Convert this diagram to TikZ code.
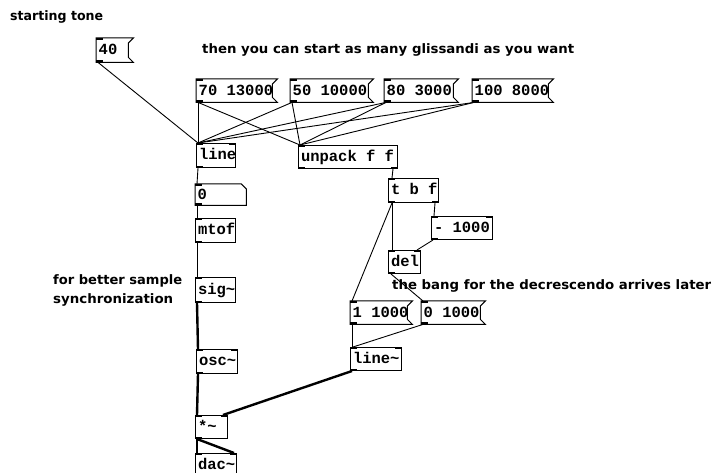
\documentclass[tikz,border=0pt]{standalone}
\usepackage{fontspec}
\setmainfont{DejaVu Sans}
\newfontfamily\cmtfamily{DejaVu Sans}
\newfontfamily\boxfamily{Liberation Mono}
\newcommand\cmtfnt{\cmtfamily\bfseries\fontsize{13}{15}\selectfont}
\newcommand\boxfnt{\boxfamily\bfseries\fontsize{15.5}{17}\selectfont}
\tikzset{
 pdtext/.style={font=\boxfnt, inner xsep=2.5pt, inner ysep=0pt, text height=9pt, text depth=0pt, anchor=north west},
 pdobj/.style={pdtext, draw=black, line width=1pt},
 pdmsg/.style={pdtext},
 cmt/.style={font=\cmtfnt, inner sep=0pt, anchor=base west},
 wire/.style={line width=0.9pt, black},
 sigwire/.style={line width=2.4pt, black},
 frame/.style={line width=1pt, black},
}
\newcommand\cmtw[2]{\resizebox{#1pt}{\height}{#2}}
\newcommand\pdbox[7]{\pgfmathsetmacro\pdtw{#5-#3-5}\pgfmathsetmacro\pdh{#6-#4}\node[#1, minimum height=\pdh pt] (#2) at (#3,#4) {\makebox[\pdtw pt][l]{#7}};}
\newcommand\msgframe[1]{\draw[frame] (#1.north west) -- (#1.north east) -- ([xshift=-5pt,yshift=-5pt]#1.north east) -- ([xshift=-5pt,yshift=5pt]#1.south east) -- (#1.south east) -- (#1.south west) -- cycle;}
\newcommand\atomframe[1]{\draw[frame] (#1.north west) -- ([xshift=-5pt]#1.north east) -- ([yshift=-5pt]#1.north east) -- (#1.south east) -- (#1.south west) -- cycle;}
\newcommand\ioTL[1]{\fill (#1.north west) rectangle ++(7,2.2);}
\newcommand\ioTR[1]{\fill ([xshift=-7pt]#1.north east) rectangle ++(7,2.2);}
\newcommand\ioBL[1]{\fill (#1.south west) rectangle ++(7,-2.2);}
\newcommand\ioBR[1]{\fill ([xshift=-7pt]#1.south east) rectangle ++(7,-2.2);}
\begin{document}
\begin{tikzpicture}[x=1pt,y=-1pt]
\useasboundingbox[fill=white] (0,0) rectangle (716,473);
\clip (0,0) rectangle (716,473);
% comments
\node[cmt] (c1) at (10,21) {\cmtw{93}{starting tone}};
\node[cmt] (c2) at (202,54) {\cmtw{372}{then you can start as many glissandi as you want}};
\node[cmt] (c3) at (53,285) {\cmtw{129}{for better sample}};
\node[cmt] (c4) at (53,304) {\cmtw{120}{synchronization}};
\node[cmt] (c5) at (392,290) {\cmtw{319}{the bang for the decrescendo arrives later}};
% message boxes
\pdbox{pdmsg}{m40}{96}{38}{133}{62}{40}
\pdbox{pdmsg}{ma}{196}{79}{277}{102}{70 13000}
\pdbox{pdmsg}{mb}{290}{79}{373}{102}{50 10000}
\pdbox{pdmsg}{mc}{384}{79}{458}{102}{80 3000}
\pdbox{pdmsg}{md}{472}{79}{553}{102}{100 8000}
\pdbox{pdmsg}{mon}{350}{301}{412}{324}{1 1000}
\pdbox{pdmsg}{moff}{421}{301}{485}{324}{0 1000}
\foreach \m in {m40,ma,mb,mc,md,mon,moff}{\msgframe{\m}\ioTL{\m}\ioBL{\m}}
% objects
\pdbox{pdobj}{line}{196}{143}{235}{167}{line}
\pdbox{pdobj}{unp}{298}{145}{397}{168}{unpack f f}
\pdbox{pdmsg}{num}{195}{184}{246}{205}{0}
\atomframe{num}
\pdbox{pdobj}{tbf}{388}{178}{438}{202}{t b f}
\pdbox{pdobj}{sub}{431}{216}{492}{239}{- 1000}
\pdbox{pdobj}{mtof}{195}{218}{235}{242}{mtof}
\pdbox{pdobj}{del}{388}{250}{420}{273}{del}
\pdbox{pdobj}{sig}{195}{277}{235}{302}{sig\char`~}
\pdbox{pdobj}{linesig}{350}{347}{401}{370}{line\char`~}
\pdbox{pdobj}{osc}{196}{349}{237}{373}{osc\char`~}
\pdbox{pdobj}{mul}{195}{415}{227}{438}{*\char`~}
\pdbox{pdobj}{dac}{195}{453}{236}{476}{dac\char`~}
% inlets / outlets
\foreach \o in {line,unp,num,tbf,sub,mtof,del,sig,linesig,osc,mul,dac}{\ioTL{\o}}
\foreach \o in {line,unp,num,tbf,sub,mtof,del,sig,linesig,osc,mul}{\ioBL{\o}}
\foreach \o in {line,sub,del,linesig,osc,mul,dac}{\ioTR{\o}}
\foreach \o in {unp,tbf}{\ioBR{\o}}
% control connections
\draw[wire] ([xshift=2pt]m40.south west) -- ([xshift=2pt]line.north west);
\foreach \m in {ma,mb,mc,md}{
  \draw[wire] ([xshift=2pt]\m.south west) -- ([xshift=2pt]line.north west);
  \draw[wire] ([xshift=2pt]\m.south west) -- ([xshift=2pt]unp.north west);
}
\draw[wire] ([xshift=2pt]line.south west) -- ([xshift=2pt]num.north west);
\draw[wire] ([xshift=2pt]num.south west) -- ([xshift=2pt]mtof.north west);
\draw[wire] ([xshift=2pt]mtof.south west) -- ([xshift=2pt]sig.north west);
\draw[wire] ([xshift=-5pt]unp.south east) -- ([xshift=4pt]tbf.north west);
\draw[wire] ([xshift=4pt]tbf.south west) -- ([xshift=4pt]del.north west);
\draw[wire] ([xshift=4pt]tbf.south west) -- ([xshift=2pt]mon.north west);
\draw[wire] ([xshift=-4pt]tbf.south east) -- ([xshift=3pt]sub.north west);
\draw[wire] ([xshift=2pt]sub.south west) -- ([xshift=-4pt]del.north east);
\draw[wire] ([xshift=3pt]del.south west) -- ([xshift=2pt]moff.north west);
\draw[wire] ([xshift=2pt]mon.south west) -- ([xshift=2pt]linesig.north west);
\draw[wire] ([xshift=2pt]moff.south west) -- ([xshift=3pt]linesig.north west);
% signal connections
\draw[sigwire] ([xshift=2pt]sig.south west) -- ([xshift=2pt]osc.north west);
\draw[sigwire] ([xshift=2pt]osc.south west) -- ([xshift=2pt]mul.north west);
\draw[sigwire] ([xshift=2pt]linesig.south west) -- ([xshift=-5pt]mul.north east);
\draw[sigwire] ([xshift=2pt]mul.south west) -- ([xshift=2pt]dac.north west);
\draw[sigwire] ([xshift=2pt]mul.south west) -- ([xshift=-3pt]dac.north east);
\end{tikzpicture}
\end{document}
